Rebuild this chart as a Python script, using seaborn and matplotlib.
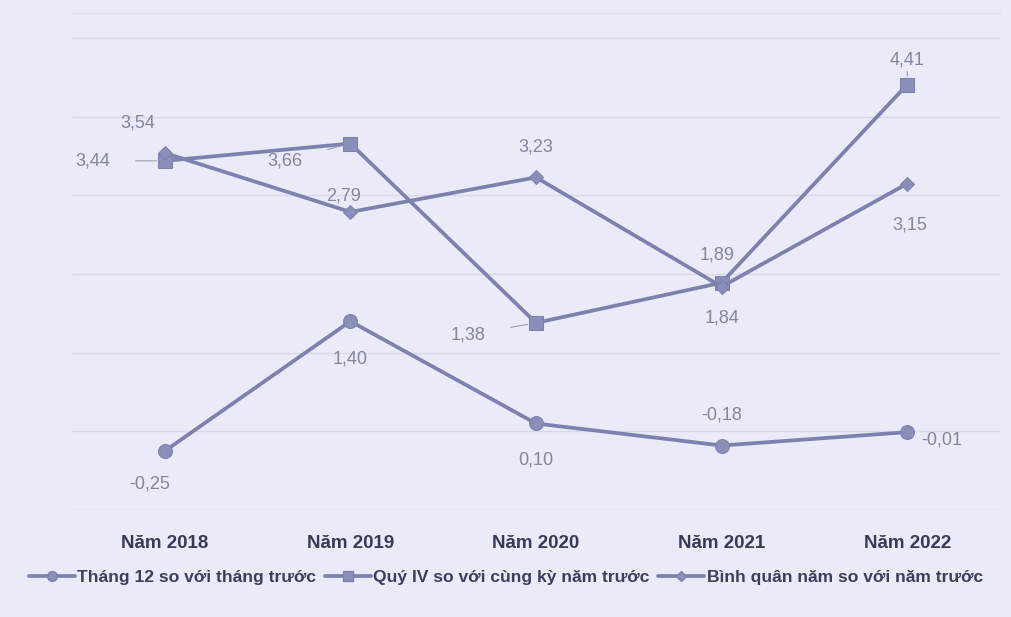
import matplotlib
matplotlib.use("Agg")
import matplotlib.pyplot as plt
import seaborn as sns
import pandas as pd
from matplotlib.lines import Line2D

# Chart data
years = ["Năm 2018", "Năm 2019", "Năm 2020", "Năm 2021", "Năm 2022"]
series_names = [
    "Tháng 12 so với tháng trước",
    "Quý IV so với cùng kỳ năm trước",
    "Bình quân năm so với năm trước",
]
thang12 = [-0.25, 1.40, 0.10, -0.18, -0.01]
quy4 = [3.44, 3.66, 1.38, 1.89, 4.41]
binh_quan = [3.54, 2.79, 3.23, 1.84, 3.15]
series_values = [thang12, quy4, binh_quan]

# Label offsets in pixels (dx, dy) relative to each marker, and whether a leader line is drawn
label_layout = [
    [(-15, -33, True), (0, -38, True), (0, -37, True), (0, 31, False), (35, -8, False)],
    [(-72, 0, True), (-65, -17, True), (-68, -12, True), (-4, 28, False), (0, 25, True)],
    [(-27, 30, False), (-7, 16, False), (0, 30, False), (0, -31, False), (3, -41, False)],
]

BG = "#e9ebf8"
LINE = "#7d82ad"
LABEL = "#84869c"
TICK = "#383b57"

rows = []
for name, vals in zip(series_names, series_values):
    for i, v in enumerate(vals):
        rows.append({"pos": i, "value": v, "series": name})
df = pd.DataFrame(rows)

sns.set_theme(style="white")
plt.rcParams["font.family"] = ["Liberation Sans", "DejaVu Sans"]

fig = plt.figure(figsize=(10.12, 6.17), dpi=100, facecolor=BG)
ax = fig.add_axes([72 / 1012, 1 - 510 / 617, (1000 - 72) / 1012, (510 - 13) / 617])
ax.set_facecolor(BG)

markers = ["o", "s", "D"]
sizes = [10, 10, 7.5]
for name, m, ms in zip(series_names, markers, sizes):
    sns.lineplot(
        data=df[df["series"] == name], x="pos", y="value", ax=ax,
        color=LINE, linewidth=2.7, marker=m, markersize=ms,
        markeredgecolor=LINE, markerfacecolor="#8a8eb8", legend=False,
    )

ax.set_xlim(-0.5, len(years) - 0.5)
ax.set_ylim(-1, 5.32)
ax.set_yticks(range(-1, 6))
ax.yaxis.grid(True, color="#d7d9ea", linewidth=1.0)
ax.set_axisbelow(True)
ax.tick_params(axis="y", left=False, labelleft=False)
ax.set_xticks(range(len(years)))
ax.set_xticklabels(years, fontsize=13.5, fontweight="bold", color=TICK)
ax.tick_params(axis="x", bottom=False, pad=12)
ax.set_xlabel("")
ax.set_ylabel("")
for side in ["left", "right", "bottom"]:
    ax.spines[side].set_visible(False)
ax.spines["top"].set_color("#dadcec")
ax.spines["top"].set_linewidth(1.0)

# Value labels
for vals, layout in zip(series_values, label_layout):
    for i, (v, (dx, dy, leader)) in enumerate(zip(vals, layout)):
        txt = f"{v:.2f}".replace(".", ",")
        ax.annotate(
            txt, xy=(i, v), xytext=(dx, dy), textcoords="offset pixels",
            ha="center", va="center", fontsize=13, color=LABEL,
            arrowprops=dict(arrowstyle="-", color="#9a9cb4", lw=0.8,
                            shrinkA=16, shrinkB=6) if leader else None,
        )

# Legend along the bottom
handles = [
    Line2D([], [], color=LINE, linewidth=2.7, marker=m, markersize=ms * 0.7,
           markeredgecolor=LINE, markerfacecolor="#8a8eb8")
    for m, ms in zip(markers, sizes)
]
leg = fig.legend(
    handles, series_names, loc="center", bbox_to_anchor=(0.5, 1 - 577 / 617),
    ncol=3, frameon=False, handlelength=2.6, handletextpad=0.15,
    columnspacing=0.5, prop={"size": 12.6, "weight": "bold"},
)
for t in leg.get_texts():
    t.set_color("#3c3f5a")

fig.savefig("out.png", dpi=100, facecolor=BG)
